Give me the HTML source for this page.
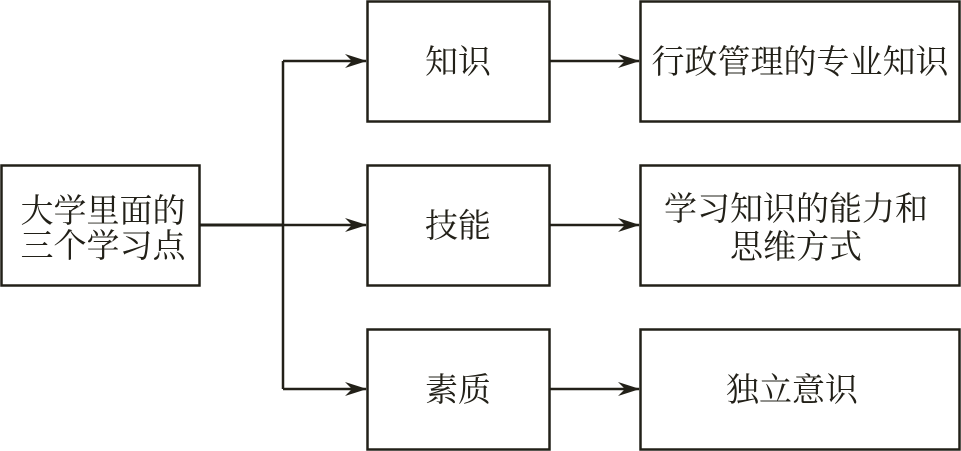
<!DOCTYPE html>
<html><head><meta charset="utf-8"><style>
html,body{margin:0;padding:0;background:#fff;}
svg{display:block;}
text{font-family:"Liberation Serif","Noto Serif CJK SC",serif;font-size:33px;fill:#222018;}
</style></head><body>
<svg width="961" height="451" viewBox="0 0 961 451" xmlns="http://www.w3.org/2000/svg">
<defs><marker id="a" markerWidth="22" markerHeight="14" refX="21" refY="7" orient="auto" markerUnits="userSpaceOnUse">
<path d="M0,0 L22,7 L0,14 L7,7 Z" fill="#222018"/></marker></defs>
<g fill="none" stroke="#222018" stroke-width="2.5">
<rect x="1.5" y="165.5" width="198" height="120"/>
<rect x="367.5" y="1.5" width="182" height="120"/>
<rect x="367.5" y="165.5" width="182" height="120"/>
<rect x="367.5" y="329.5" width="182" height="120"/>
<rect x="640.5" y="1.5" width="319" height="120"/>
<rect x="640.5" y="165.5" width="319" height="120"/>
<rect x="640.5" y="329.5" width="319" height="120"/>
<path d="M199,225 H283" stroke-width="3"/>
<path d="M283,61 V389"/>
<path d="M283,61 H366" marker-end="url(#a)"/>
<path d="M283,225 H366" marker-end="url(#a)"/>
<path d="M283,389 H366" marker-end="url(#a)"/>
<path d="M549,61 H639" marker-end="url(#a)"/>
<path d="M549,225 H639" marker-end="url(#a)"/>
<path d="M549,389 H639" marker-end="url(#a)"/>
</g>
<g text-anchor="middle">
<text x="103" y="222">大学里面的</text>
<text x="103" y="257">三个学习点</text>
<text x="458" y="73">知识</text>
<text x="458" y="237">技能</text>
<text x="458" y="401">素质</text>
<text x="800" y="73">行政管理的专业知识</text>
<text x="796" y="220">学习知识的能力和</text>
<text x="796" y="258">思维方式</text>
<text x="792" y="401">独立意识</text>
</g>
</svg>
</body></html>
